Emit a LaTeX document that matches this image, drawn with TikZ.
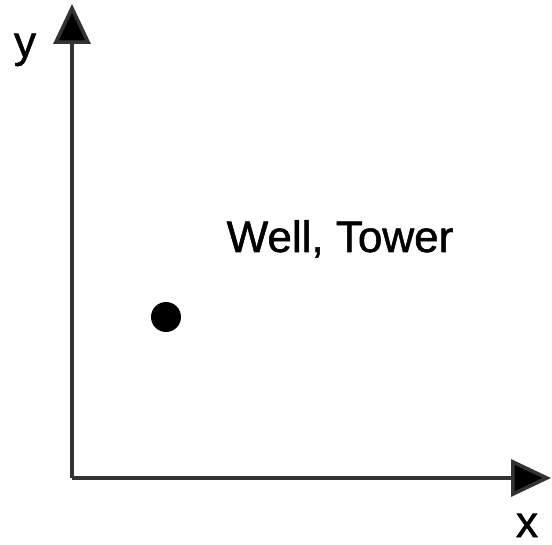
\documentclass[tikz,border=0pt]{standalone}
\usepackage{fontspec}
\setmainfont{Liberation Sans}
\newfontfamily\heavyfont[FakeBold=1.2]{Liberation Sans}
\usetikzlibrary{arrows.meta}
\tikzset{
  axis/.style={line width=3.6pt, draw=black!80, -{Triangle[length=40pt,width=37pt,fill=black]}},
  lbl/.style={font=\heavyfont\fontsize{44}{50}\selectfont, inner sep=0pt, anchor=base},
  pointdot/.style={circle, fill=black, minimum size=30pt, inner sep=0pt}
}
\begin{document}
\begin{tikzpicture}[x=1pt,y=-1pt]
\useasboundingbox (0,0) rectangle (552,545);
\coordinate (O) at (72,478);
\coordinate (Ytop) at (72,4);
\coordinate (Xend) at (551,478);
\draw[axis] (O) -- (Ytop);
\draw[axis] (O) -- (Xend);
\node[lbl] (ylab) at (25,57) {y};
\node[lbl] (xlab) at (527,537) {x};
\node[pointdot] (dot) at (166,317) {};
\node[lbl] (name) at (340,252) {Well, Tower};
\end{tikzpicture}
\end{document}
